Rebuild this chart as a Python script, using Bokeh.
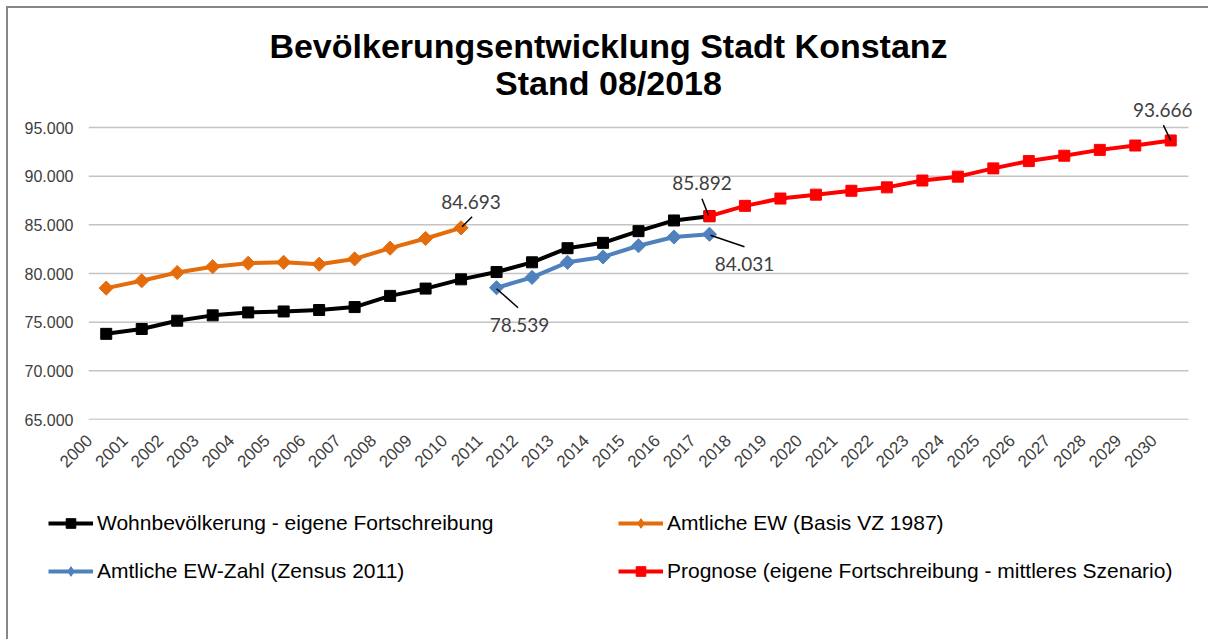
from math import pi
from bokeh.plotting import figure
from bokeh.models import (Range1d, FixedTicker, Label, Legend, LegendItem,
                          LinearAxis)
from bokeh.embed import file_html
from bokeh.resources import INLINE

# ---------------- data ----------------
title_lines = ["Bevölkerungsentwicklung Stadt Konstanz", "Stand 08/2018"]

years_all = list(range(2000, 2031))
y_ticks = [65000, 70000, 75000, 80000, 85000, 90000, 95000]
y_tick_labels = ["65.000", "70.000", "75.000", "80.000", "85.000", "90.000", "95.000"]

wohn_years = list(range(2000, 2018))
wohn_vals = [73800, 74300, 75150, 75700, 76000, 76100, 76250, 76550, 77700,
             78450, 79400, 80150, 81150, 82600, 83150, 84350, 85450, 85892]

amtl_years = list(range(2000, 2011))
amtl_vals = [78500, 79250, 80100, 80700, 81050, 81150, 80950, 81500, 82600,
             83600, 84693]

zensus_years = list(range(2011, 2018))
zensus_vals = [78539, 79600, 81150, 81700, 82850, 83750, 84031]

prog_years = list(range(2017, 2031))
prog_vals = [85892, 86950, 87700, 88100, 88500, 88850, 89550, 89950, 90800,
             91550, 92100, 92700, 93150, 93666]

names = ["Wohnbevölkerung - eigene Fortschreibung",
         "Amtliche EW (Basis VZ 1987)",
         "Amtliche EW-Zahl (Zensus 2011)",
         "Prognose (eigene Fortschreibung - mittleres Szenario)"]


def fmt(v):
    return f"{v:,}".replace(",", ".")


# ---------------- layout ----------------
W = 1208
CHART_H, LEG_H = 480, 159
LEFT, RIGHT, BOTTOM = 88, 8, 61
FW, FH = W - LEFT - RIGHT, CHART_H - BOTTOM
PX_PER_YEAR = 1100 / len(years_all)          # category band width
PX_PER_UNIT = 292 / (y_ticks[-1] - y_ticks[0])
x0 = years_all[0] - 0.5
x1 = x0 + FW / PX_PER_YEAR
y0 = y_ticks[0]
y1 = y0 + FH / PX_PER_UNIT
LABEL_SHIFT = 17 / PX_PER_YEAR   # rotated category labels sit left of tick


def px2x(px):
    return x0 + (px - LEFT) / PX_PER_YEAR


def px2y(py):
    return y0 + (FH - py) / PX_PER_UNIT


p = figure(frame_width=FW, frame_height=FH,
           min_border_left=LEFT, min_border_right=RIGHT,
           min_border_top=0, min_border_bottom=BOTTOM,
           x_range=Range1d(x0, x1), y_range=Range1d(y0, y1),
           output_backend="svg", toolbar_location=None)
p.styles = {"box-shadow": "inset 6px 6px 0 0 white, inset 8px 8px 0 0 #878787"}
p.background_fill_color = None
p.border_fill_color = None
p.outline_line_color = None
p.xgrid.visible = False
p.ygrid.visible = False

# horizontal gridlines (and category axis line) across the category area only
n = len(y_ticks)
grid_colors = ["#A6A6A6"] + ["#C4C4C4"] * (n - 1)
p.segment([x0] * n, y_ticks, [years_all[-1] + 0.5] * n, y_ticks,
          line_color=grid_colors, line_width=1.5)

ya = p.yaxis[0]
ya.ticker = FixedTicker(ticks=y_ticks)
ya.major_label_overrides = dict(zip(y_ticks, y_tick_labels))
ya.axis_line_color = None
ya.major_tick_line_color = None
ya.minor_tick_line_color = None
ya.major_tick_out = 0
ya.major_tick_in = 0
ya.major_label_text_font = "Liberation Sans"
ya.major_label_text_font_size = "16px"
ya.major_label_text_color = "#404040"
ya.major_label_standoff = 15

p.xaxis[0].visible = False
p.extra_x_ranges = {"cat": Range1d(x0 + LABEL_SHIFT, x1 + LABEL_SHIFT)}
xa = LinearAxis(x_range_name="cat", ticker=FixedTicker(ticks=years_all))
xa.major_label_overrides = {y: str(y) for y in years_all}
xa.major_label_orientation = pi / 4
xa.axis_line_color = None
xa.major_tick_line_color = None
xa.minor_tick_line_color = None
xa.major_tick_out = 0
xa.major_tick_in = 0
xa.major_label_text_font = "Liberation Sans"
xa.major_label_text_font_size = "17px"
xa.major_label_text_color = "#404040"
xa.major_label_standoff = 18
p.add_layout(xa, "below")

series = [
    (amtl_years, amtl_vals, "#E46C0A", "square", 10, pi / 4, names[1]),
    (wohn_years, wohn_vals, "black", "square", 11, 0, names[0]),
    (zensus_years, zensus_vals, "#4F81BD", "square", 10, pi / 4, names[2]),
    (prog_years, prog_vals, "#FF0000", "square", 11, 0, names[3]),
]
for xs, ys, color, marker, size, ang, name in series:
    p.line(xs, ys, line_color=color, line_width=4, line_join="round")
    p.scatter(xs, ys, marker=marker, size=size, angle=ang,
              fill_color=color, line_color=color)

# ---------------- data labels with leader lines ----------------
annots = [
    # (year, value, label dx, label dy, leader start dx, dy, leader end dx, dy)
    (amtl_years[-1], amtl_vals[-1], 10, 26, 1, 1, 11, 11),
    (prog_years[0], prog_vals[0], -7.5, 33, -1, 1, -7.5, 17.5),
    (zensus_years[-1], zensus_vals[-1], 35, -30, 1, -1, 35, -12.5),
    (zensus_years[0], zensus_vals[0], 23, -37.5, 0, -1, 21.5, -20),
    (prog_years[-1], prog_vals[-1], -8, 30, 0, 0, -7.4, 15.4),
]
sx0, sy0, sx1, sy1 = [], [], [], []
for yr, v, ldx, ldy, a, b, c, d in annots:
    p.add_layout(Label(x=yr, y=v, x_offset=ldx, y_offset=ldy, text=fmt(v),
                       text_align="center", text_baseline="middle",
                       text_font="Lato", text_font_size="19px",
                       text_color="#404040"))
    sx0.append(yr + a / PX_PER_YEAR)
    sy0.append(v + b / PX_PER_UNIT)
    sx1.append(yr + c / PX_PER_YEAR)
    sy1.append(v + d / PX_PER_UNIT)
p.segment(sx0, sy0, sx1, sy1, line_color="black", line_width=1.5)

# ---------------- title (inside the transparent frame area) ----------------
for t, cy in zip(title_lines, [45, 82]):
    p.add_layout(Label(x=px2x(608), y=px2y(cy), text=t,
                       text_align="center", text_baseline="middle",
                       text_font="Liberation Sans", text_font_style="bold",
                       text_font_size="34px", text_color="black"))

# ---------------- legend (own strip below the chart) ----------------
lf = figure(width=W, height=LEG_H, x_range=Range1d(0, 1), y_range=Range1d(0, 1),
            x_axis_type=None, y_axis_type=None, min_border=0,
            output_backend="svg", toolbar_location=None)
lf.styles = {"box-shadow": "inset 6px 0 0 0 white, inset 8px 0 0 0 #878787"}
lf.background_fill_color = None
lf.border_fill_color = None
lf.outline_line_color = None
lf.grid.visible = False

items = {}
for xs, ys, color, marker, size, ang, name in series:
    # same series (outside this strip's visible range) so legend glyphs draw
    leg_marker = "diamond" if ang else marker
    rl = lf.line(xs, ys, line_color=color, line_width=4)
    rm = lf.scatter(xs, ys, marker=leg_marker, size=size,
                    fill_color=color, line_color=color)
    items[name] = [rl, rm]

legend = Legend(
    items=[LegendItem(label=nm, renderers=items[nm]) for nm in names],
    location=(48, 55), orientation="horizontal", ncols=2,
    glyph_width=45, glyph_height=24, label_height=26, label_width=499,
    label_standoff=4, spacing=22, padding=0, margin=0,
    border_line_color=None, background_fill_alpha=0,
    label_text_font="Liberation Sans", label_text_font_size="21px",
    label_text_color="black")
lf.add_layout(legend)

open("out.html", "w").write(file_html([p, lf], INLINE))
